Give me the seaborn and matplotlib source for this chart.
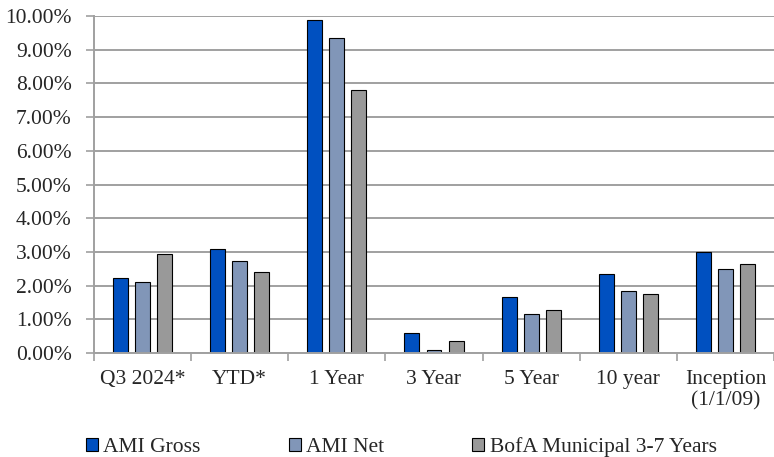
import numpy as np
import pandas as pd
import seaborn as sns
import matplotlib.pyplot as plt
from matplotlib.ticker import FuncFormatter, FixedLocator

sns.set_style('white')
plt.rcParams['font.family'] = ['Liberation Serif', 'DejaVu Serif']

# data (percent)
periods = ['Q3 2024*', 'YTD*', '1 Year', '3 Year', '5 Year', '10 year', 'Inception\n(1/1/09)']
series = ['AMI Gross', 'AMI Net', 'BofA Municipal 3-7 Years']
ami_gross = [2.22, 3.09, 9.89, 0.59, 1.67, 2.34, 3.00]
ami_net = [2.10, 2.72, 9.36, 0.08, 1.17, 1.84, 2.50]
bofa = [2.94, 2.39, 7.80, 0.37, 1.28, 1.75, 2.63]
colors = ['#0050C0', '#8196B8', '#999999']

df = pd.DataFrame({
    'Period': periods * 3,
    'Series': [s for s in series for _ in periods],
    'Return': ami_gross + ami_net + bofa,
})

fig = plt.figure(figsize=(7.74, 4.57), dpi=100)
ax = fig.add_axes([94 / 774, 1 - 353 / 457, 1 - 94 / 774, 337 / 457])

sns.barplot(data=df, x='Period', y='Return', hue='Series', order=periods,
            hue_order=series, palette=colors, saturation=1, width=0.68, gap=0.32,
            edgecolor='black', linewidth=0.8, ax=ax)

ax.set_ylim(0, 10)
ax.set_xlim(-0.5, len(periods) - 0.5)
ax.set_yticks(np.arange(0, 11, 1))
ax.yaxis.set_major_formatter(FuncFormatter(lambda v, p: f'{v:.2f}%'))
ax.yaxis.grid(True, color='#a0a0a0', linewidth=1.4)
ax.set_axisbelow(True)
ax.set_xlabel('')
ax.set_ylabel('')

for side in ['top', 'right']:
    ax.spines[side].set_visible(False)
for side in ['left', 'bottom']:
    ax.spines[side].set_color('#a0a0a0')
    ax.spines[side].set_linewidth(1.4)

fs = 15.5
ax.tick_params(axis='y', which='major', length=6, width=1.2, color='#a0a0a0',
               labelsize=fs, pad=10, left=True)
ax.tick_params(axis='x', which='major', length=0, labelsize=fs, pad=12)
ax.xaxis.set_minor_locator(FixedLocator(np.arange(-0.5, len(periods), 1)))
ax.tick_params(axis='x', which='minor', length=6, width=1.2, color='#a0a0a0', bottom=True)

handles, labels = ax.get_legend_handles_labels()
ax.legend_.remove()
fig.legend(handles, labels, loc='center left', bbox_to_anchor=(86 / 774, 1 - 447 / 457),
           ncol=3, frameon=False, fontsize=fs, handlelength=0.55, handleheight=0.55,
           handletextpad=0.25, columnspacing=4.1, borderaxespad=0.0, borderpad=0.0)

fig.savefig('out.png', dpi=100)
plt.close()
